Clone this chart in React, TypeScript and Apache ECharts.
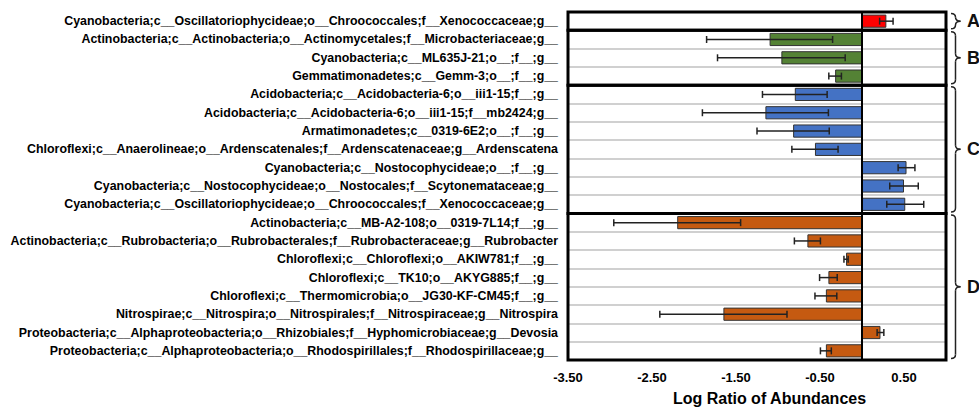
import React, { useEffect, useRef } from "react";
import * as echarts from "echarts";

const categories: string[] = [
  "Cyanobacteria;c__Oscillatoriophycideae;o__Chroococcales;f__Xenococcaceae;g__",
  "Actinobacteria;c__Actinobacteria;o__Actinomycetales;f__Microbacteriaceae;g__",
  "Cyanobacteria;c__ML635J-21;o__;f__;g__",
  "Gemmatimonadetes;c__Gemm-3;o__;f__;g__",
  "Acidobacteria;c__Acidobacteria-6;o__iii1-15;f__;g__",
  "Acidobacteria;c__Acidobacteria-6;o__iii1-15;f__mb2424;g__",
  "Armatimonadetes;c__0319-6E2;o__;f__;g__",
  "Chloroflexi;c__Anaerolineae;o__Ardenscatenales;f__Ardenscatenaceae;g__Ardenscatena",
  "Cyanobacteria;c__Nostocophycideae;o__;f__;g__",
  "Cyanobacteria;c__Nostocophycideae;o__Nostocales;f__Scytonemataceae;g__",
  "Cyanobacteria;c__Oscillatoriophycideae;o__Chroococcales;f__Xenococcaceae;g__",
  "Actinobacteria;c__MB-A2-108;o__0319-7L14;f__;g__",
  "Actinobacteria;c__Rubrobacteria;o__Rubrobacterales;f__Rubrobacteraceae;g__Rubrobacter",
  "Chloroflexi;c__Chloroflexi;o__AKIW781;f__;g__",
  "Chloroflexi;c__TK10;o__AKYG885;f__;g__",
  "Chloroflexi;c__Thermomicrobia;o__JG30-KF-CM45;f__;g__",
  "Nitrospirae;c__Nitrospira;o__Nitrospirales;f__Nitrospiraceae;g__Nitrospira",
  "Proteobacteria;c__Alphaproteobacteria;o__Rhizobiales;f__Hyphomicrobiaceae;g__Devosia",
  "Proteobacteria;c__Alphaproteobacteria;o__Rhodospirillales;f__Rhodospirillaceae;g__",
];

const logRatio: number[] = [
  0.29, -1.1, -0.96, -0.32, -0.8, -1.15, -0.82, -0.56, 0.53, 0.5, 0.515,
  -2.2, -0.65, -0.19, -0.4, -0.43, -1.65, 0.22, -0.43,
];

const errors: number[] = [
  0.08, 0.75, 0.76, 0.075, 0.385, 0.75, 0.43, 0.275, 0.1, 0.17, 0.22,
  0.755, 0.155, 0.025, 0.105, 0.13, 0.757, 0.04, 0.065,
];

const groupNames: string[] = ["A", "B", "C", "D"];
const groupStart: number[] = [0, 1, 4, 11];
const groupEnd: number[] = [0, 3, 10, 18];
const groupColors: string[] = ["#FF0000", "#548235", "#4472C4", "#C55A11"];

const xTicks = { min: -3.5, max: 1, interval: 1 };

const FONT = "'Liberation Sans', Arial, sans-serif";

function groupOf(i: number): number {
  for (let g = 0; g < groupStart.length; g++) {
    if (i >= groupStart[g] && i <= groupEnd[g]) return g;
  }
  return 0;
}

export default function App() {
  const ref = useRef<HTMLDivElement>(null);

  useEffect(() => {
    if (!ref.current) return;
    const chart = echarts.init(ref.current, undefined, { renderer: "svg" });

    const barData = logRatio.map((v, i) => ({
      value: v,
      itemStyle: { color: groupColors[groupOf(i)] },
    }));
    const errData = logRatio.map((v, i) => [v, i, errors[i]]);
    const groupData = groupNames.map((_, g) => [xTicks.min, groupStart[g], groupEnd[g]]);

    const option: any = {
      animation: false,
      grid: {
        left: 568,
        right: 33,
        top: 12,
        bottom: 48,
        containLabel: false,
        outerBoundsMode: "none",
      },
      xAxis: {
        type: "value",
        min: xTicks.min,
        max: xTicks.max,
        interval: xTicks.interval,
        axisLine: { show: false },
        axisTick: { show: false },
        splitLine: { show: false },
        axisLabel: {
          showMaxLabel: false,
          margin: 11,
          color: "#000",
          fontFamily: FONT,
          fontWeight: "bold",
          fontSize: 13,
          formatter: (v: number) => v.toFixed(2),
        },
        name: "Log Ratio of Abundances",
        nameLocation: "middle",
        nameGap: 30,
        nameTextStyle: {
          color: "#000",
          fontFamily: FONT,
          fontWeight: "bold",
          fontSize: 16,
          padding: [0, 0, 0, 25],
        },
      },
      yAxis: {
        type: "category",
        inverse: true,
        data: categories,
        axisLine: { show: false },
        axisTick: { show: false },
        splitLine: {
          show: true,
          interval: 0,
          lineStyle: { color: "#c0c0c0", width: 1.5 },
        },
        axisLabel: {
          interval: 0,
          margin: 10,
          color: "#000",
          fontFamily: FONT,
          fontWeight: "bold",
          fontSize: 12.4,
        },
      },
      series: [
        {
          type: "bar",
          data: barData,
          barWidth: "72%",
          itemStyle: { borderColor: "#333", borderWidth: 1 },
          z: 2,
          markLine: {
            silent: true,
            symbol: ["none", "none"],
            label: { show: false },
            lineStyle: { color: "#000", width: 2, type: "solid" },
            data: [{ xAxis: 0 }],
            z: 5,
          },
        },
        {
          type: "custom",
          data: errData,
          encode: { x: 0, y: 1 },
          z: 4,
          renderItem: (params: any, api: any) => {
            const v = api.value(0);
            const idx = api.value(1);
            const e = api.value(2);
            const p1 = api.coord([v - e, idx]);
            const p2 = api.coord([v + e, idx]);
            const h = 3.5;
            const st = { stroke: "#222", lineWidth: 1.5 };
            return {
              type: "group",
              children: [
                { type: "line", shape: { x1: p1[0], y1: p1[1], x2: p2[0], y2: p2[1] }, style: st },
                { type: "line", shape: { x1: p1[0], y1: p1[1] - h, x2: p1[0], y2: p1[1] + h }, style: st },
                { type: "line", shape: { x1: p2[0], y1: p2[1] - h, x2: p2[0], y2: p2[1] + h }, style: st },
              ],
            };
          },
        },
        {
          type: "custom",
          data: groupData,
          encode: { x: 0, y: 1 },
          clip: false,
          z: 6,
          renderItem: (params: any, api: any) => {
            const cs = params.coordSys;
            const band = api.size([0, 1])[1];
            const yTop = api.coord([xTicks.min, api.value(1)])[1] - band / 2;
            const yBot = api.coord([xTicks.min, api.value(2)])[1] + band / 2;
            const right = cs.x + cs.width;
            const tipX = right + 5;
            const spX = right + 9.5;
            const ptX = right + 14.5;
            const t = yTop + 1.5;
            const b = yBot - 1.5;
            const m = (t + b) / 2;
            const r = Math.min(4, (b - t) / 4);
            const bs = { stroke: "#222", lineWidth: 1.5, fill: "none" };
            return {
              type: "group",
              children: [
                {
                  type: "rect",
                  shape: { x: cs.x, y: yTop, width: cs.width, height: yBot - yTop },
                  style: { fill: "none", stroke: "#000", lineWidth: 3 },
                },
                { type: "bezierCurve", shape: { x1: tipX, y1: t, x2: spX, y2: t + r, cpx1: spX, cpy1: t }, style: bs },
                { type: "line", shape: { x1: spX, y1: t + r, x2: spX, y2: m - r }, style: bs },
                { type: "bezierCurve", shape: { x1: spX, y1: m - r, x2: ptX, y2: m, cpx1: spX, cpy1: m }, style: bs },
                { type: "bezierCurve", shape: { x1: ptX, y1: m, x2: spX, y2: m + r, cpx1: spX, cpy1: m }, style: bs },
                { type: "line", shape: { x1: spX, y1: m + r, x2: spX, y2: b - r }, style: bs },
                { type: "bezierCurve", shape: { x1: spX, y1: b - r, x2: tipX, y2: b, cpx1: spX, cpy1: b }, style: bs },
                {
                  type: "text",
                  style: {
                    text: groupNames[params.dataIndex],
                    x: right + 21,
                    y: m,
                    fill: "#111",
                    font: "bold 18px " + FONT,
                    textAlign: "left",
                    textVerticalAlign: "middle",
                  },
                },
              ],
            };
          },
        },
      ],
    };

    chart.setOption(option);
    return () => chart.dispose();
  }, []);

  return (
    <div
      ref={ref}
      style={{ position: "fixed", left: 0, top: 0, width: 979, height: 408, background: "#fff" }}
    />
  );
}
